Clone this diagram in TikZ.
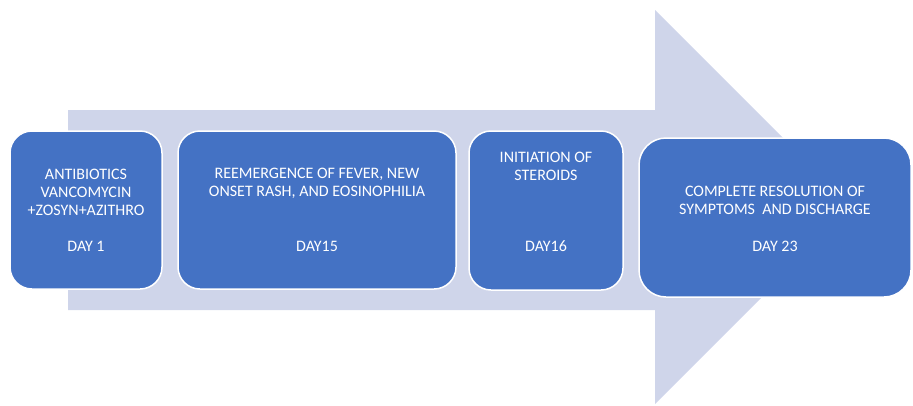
\documentclass[tikz,border=0pt]{standalone}
\usepackage{fontspec}
\setmainfont{Carlito}
\usepackage{xcolor}
\definecolor{C1}{RGB}{68,114,196}
\definecolor{C2}{RGB}{207,213,234}

\begin{document}
\begin{tikzpicture}[x=1pt, y=-1pt,
    stage/.style={draw=white, line width=1.5pt, fill=C1, inner sep=0pt},
    stagetext/.style={text=white, align=center, inner sep=0pt,
                      font=\fontsize{16}{18}\selectfont}]
    \useasboundingbox (0, 0) rectangle (913, 405);

    % big arrow behind the boxes
    \fill [C2] (68, 110) -- (655, 110) -- (655, 10) -- (852, 207)
               -- (655, 404) -- (655, 310) -- (68, 310) -- cycle;

    \foreach[count=\i] \xa/\xb/\ya/\yb/\r/\ty/\txt/\day in {
            10/162/131/289/22/192/{ANTIBIOTICS\\VANCOMYCIN\\+ZOSYN+AZITHRO}/DAY 1,
            178/456/131/289/22/183.5/{REEMERGENCE OF FEVER, NEW\\ONSET RASH, AND EOSINOPHILIA}/DAY15,
            469/623/131/290/22/166/{INITIATION OF\\STEROIDS}/DAY16,
            639/911/138/297/27/200.5/{COMPLETE RESOLUTION OF\\SYMPTOMS \ AND DISCHARGE}/DAY 23}{
        \node [stage, rounded corners=\r, minimum width=\xb-\xa, minimum height=\yb-\ya]
            (b\i) at ({(\xa+\xb)/2}, {(\ya+\yb)/2}) {};
        \node [stagetext] (t\i) at ({(\xa+\xb)/2}, \ty) {\txt};
        \node [stagetext] (d\i) at ({(\xa+\xb)/2}, 246) {\day};
    }
\end{tikzpicture}
\end{document}
